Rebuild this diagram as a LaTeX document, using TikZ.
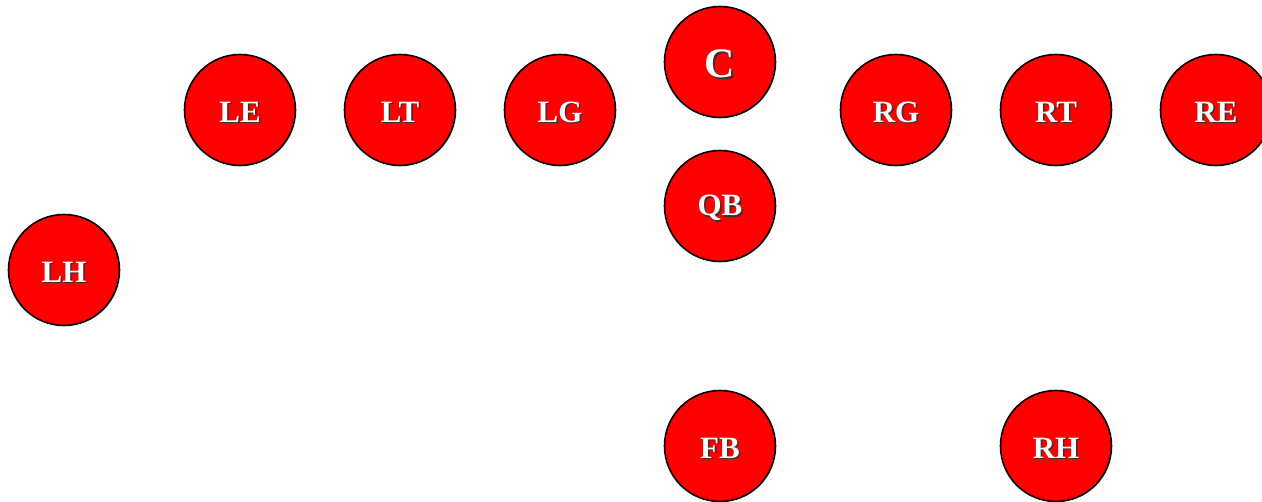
\documentclass[tikz,border=0pt]{standalone}
\usepackage{fontspec}
\setmainfont{Liberation Serif}
\begin{document}
\begin{tikzpicture}[x=1pt,y=-1pt,
  player/.style={circle,draw=black,line width=1.6pt,fill=red,minimum size=111pt,inner sep=0pt},
  lbl/.style={font=\fontsize{31}{31}\selectfont\bfseries,inner sep=0pt}]
\useasboundingbox (0,0) rectangle (1262,502);
\newcommand{\pl}[4]{%
  \node[player] (#1) at (#2,#3) {};
  \node[lbl,text=black!80] (#1s) at (#2+1.6,#3+3.6) {#4};
  \node[lbl,text=white] (#1t) at (#2,#3+2) {#4};}
\pl{LE}{240}{110}{LE}
\pl{LT}{400}{110}{LT}
\pl{LG}{560}{110}{LG}
\pl{RG}{896}{110}{RG}
\pl{RT}{1056}{110}{RT}
\pl{RE}{1216}{110}{RE}
\pl{QB}{720}{206}{QB}
\pl{LH}{64}{270}{LH}
\pl{FB}{720}{446}{FB}
\pl{RH}{1056}{446}{RH}
\node[player] (C) at (720,62) {};
\node[lbl,font=\fontsize{42}{42}\selectfont\bfseries,text=black!80] (Cs) at (721.6,65.6) {C};
\node[lbl,font=\fontsize{42}{42}\selectfont\bfseries,text=white] (Ct) at (720,64) {C};
\end{tikzpicture}
\end{document}
